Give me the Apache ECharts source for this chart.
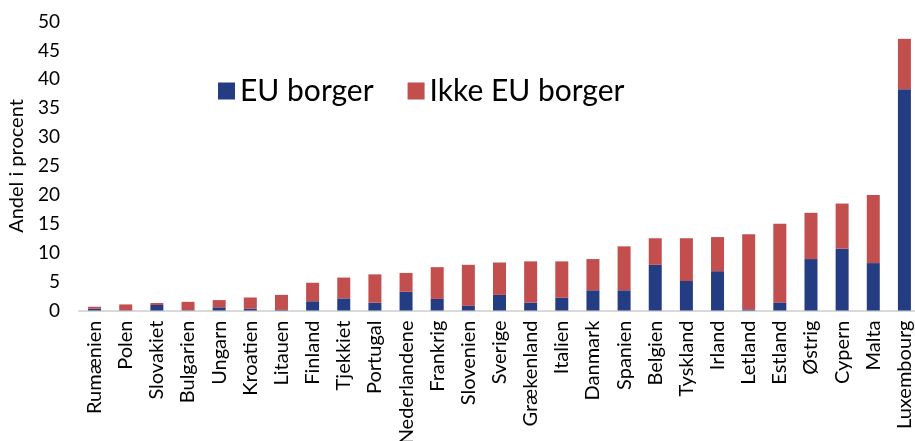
<!DOCTYPE html>
<html>
<head>
<meta charset="utf-8">
<script src="https://cdn.jsdelivr.net/npm/echarts@6/dist/echarts.min.js"></script>
<style>
html,body{margin:0;padding:0;background:#fff;}
#chart{width:915px;height:441px;}
</style>
</head>
<body>
<div id="chart"></div>
<script>
const categories = ["Rumænien","Polen","Slovakiet","Bulgarien","Ungarn","Kroatien","Litauen","Finland","Tjekkiet","Portugal","Nederlandene","Frankrig","Slovenien","Sverige","Grækenland","Italien","Danmark","Spanien","Belgien","Tyskland","Irland","Letland","Estland","Østrig","Cypern","Malta","Luxembourg"];
const euBorger = [0.3,0.05,0.95,0.05,0.55,0.3,0.1,1.6,2.1,1.35,3.25,2.0,0.8,2.7,1.35,2.2,3.5,3.5,7.9,5.1,6.8,0.2,1.4,8.9,10.7,8.2,38.3];
const ikkeEuBorger = [0.35,1.0,0.35,1.45,1.25,1.95,2.6,3.2,3.6,4.9,3.25,5.5,7.1,5.6,7.15,6.3,5.4,7.6,4.6,7.4,5.9,13.0,13.6,8.0,7.8,11.8,8.7];
const yTicks = {min:0, max:50, interval:5};
const seriesNames = ["EU borger","Ikke EU borger"];

const FONT = "Lato";
const chart = echarts.init(document.getElementById('chart'), null, {renderer:'canvas'});
chart.setOption({
  animation:false,
  textStyle:{fontFamily:FONT},
  legend:{
    left:213, top:71,
    itemWidth:17, itemHeight:17, itemGap:34,
    icon:'rect',
    textStyle:{fontSize:30, color:'#000', fontFamily:FONT},
    data:seriesNames
  },
  grid:{left:79, right:-5, top:21.5, bottom:130.5, containLabel:false, outerBoundsMode:'none'},
  xAxis:{
    type:'category', data:categories,
    axisLine:{lineStyle:{color:'#d9d9d9', width:2}},
    axisTick:{show:false},
    axisLabel:{rotate:90, fontSize:20, color:'#000', margin:10, interval:0, fontFamily:FONT}
  },
  yAxis:{
    type:'value', min:yTicks.min, max:yTicks.max, interval:yTicks.interval,
    name:'Andel i procent', nameLocation:'middle', nameGap:52, nameRotate:90,
    nameTextStyle:{fontSize:20, color:'#000', fontFamily:FONT},
    axisLine:{show:false}, axisTick:{show:false}, splitLine:{show:false},
    axisLabel:{fontSize:19, color:'#000', margin:19, fontFamily:FONT}
  },
  series:[
    {name:seriesNames[0], type:'bar', stack:'a', data:euBorger, barWidth:13, itemStyle:{color:'#243c82'}},
    {name:seriesNames[1], type:'bar', stack:'a', data:ikkeEuBorger, barWidth:13, itemStyle:{color:'#c24e4d'}}
  ]
});
</script>
</body>
</html>
